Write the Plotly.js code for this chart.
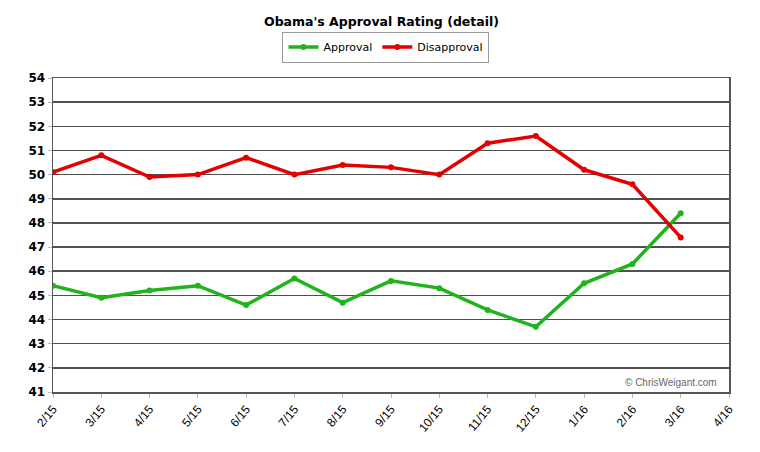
<!DOCTYPE html>
<html>
<head>
<meta charset="utf-8">
<script src="https://cdn.plot.ly/plotly-3.0.1.min.js"></script>
<style>html,body{margin:0;padding:0;background:#fff;}#chart{width:760px;height:452px;}</style>
</head>
<body>
<div id="chart"></div>
<script>
var months = ['2/15','3/15','4/15','5/15','6/15','7/15','8/15','9/15','10/15','11/15','12/15','1/16','2/16','3/16','4/16'];
var approval = [45.4, 44.9, 45.2, 45.4, 44.6, 45.7, 44.7, 45.6, 45.3, 44.4, 43.7, 45.5, 46.3, 48.4];
var disapproval = [50.1, 50.8, 49.9, 50.0, 50.7, 50.0, 50.4, 50.3, 50.0, 51.3, 51.6, 50.2, 49.6, 47.4];
var yTicks = [41,42,43,44,45,46,47,48,49,50,51,52,53,54];

var xIdx = approval.map(function(_, i){ return i; });
var tickIdx = months.map(function(_, i){ return i; });

var traces = [
  {x: xIdx, y: approval, name: 'Approval', type: 'scatter', mode: 'lines+markers',
   line: {color: '#20b31c', width: 3.5}, marker: {color: '#20b31c', size: 6}},
  {x: xIdx, y: disapproval, name: 'Disapproval', type: 'scatter', mode: 'lines+markers',
   line: {color: '#e30000', width: 3.5}, marker: {color: '#e30000', size: 6}}
];

var layout = {
  width: 760, height: 452,
  margin: {l: 53, r: 31, t: 78, b: 60},
  paper_bgcolor: '#ffffff', plot_bgcolor: '#ffffff',
  title: {text: "<b>Obama's Approval Rating (detail)</b>", x: 0.502, xref: 'container', xanchor: 'center',
          y: 1 - 22/452, yref: 'container', yanchor: 'middle',
          font: {family: 'DejaVu Sans, Verdana, sans-serif', size: 12.5, color: '#000'}},
  showlegend: true,
  legend: {orientation: 'h', x: 0.4926, xanchor: 'center', y: 1.148, yanchor: 'top',
           bordercolor: '#9a9a9a', borderwidth: 1, bgcolor: '#fff',
           font: {family: 'DejaVu Sans, Verdana, sans-serif', size: 11, color: '#000'},
           itemwidth: 30, tracegroupgap: 0},
  xaxis: {range: [0, 14], tickvals: tickIdx, ticktext: months, tickangle: -50,
          showgrid: false, zeroline: false, showline: true, linecolor: '#555', linewidth: 1.5,
          mirror: true, ticks: 'outside', ticklen: 4, tickcolor: '#bbb', tickwidth: 1,
          tickfont: {family: 'Liberation Sans, Arial, sans-serif', size: 12, color: '#000'}, fixedrange: true},
  yaxis: {range: [41, 54], tickvals: yTicks, showgrid: true, gridcolor: '#505050', gridwidth: 1.5,
          zeroline: false, showline: true, linecolor: '#555', linewidth: 1.5, mirror: true,
          ticks: 'outside', ticklen: 4, tickcolor: '#bbb',
          tickfont: {family: 'DejaVu Sans, Verdana, sans-serif', size: 12, color: '#000', weight: 'bold'},
          fixedrange: true},
  annotations: [{text: '© ChrisWeigant.com', xref: 'paper', yref: 'paper', x: 0.985, y: 0.005,
                 xanchor: 'right', yanchor: 'bottom', showarrow: false,
                 font: {family: 'Liberation Sans, Arial, sans-serif', size: 10, color: '#666'}}]
};

Plotly.newPlot('chart', traces, layout, {displayModeBar: false, staticPlot: true});
</script>
</body>
</html>
